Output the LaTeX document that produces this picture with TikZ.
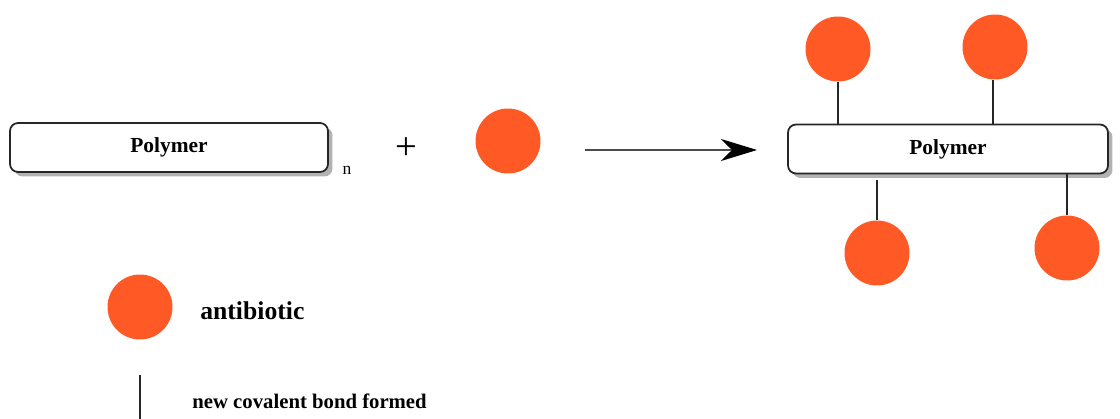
\documentclass[tikz,border=0pt]{standalone}
\usepackage{fontspec}
\setmainfont{Liberation Serif}
\usetikzlibrary{arrows.meta,shadows}
\definecolor{abx}{RGB}{255,90,38}
\begin{document}
\begin{tikzpicture}[x=0.02cm,y=-0.02cm,
  polybox/.style={draw=black!85, line width=1pt, fill=white, rounded corners=0.16cm,
    minimum width=6.36cm, minimum height=0.98cm, inner sep=0pt,
    font=\fontsize{12.2}{14}\selectfont\bfseries,
    drop shadow={shadow xshift=0.09cm, shadow yshift=-0.09cm, fill=black!30, opacity=1}},
  drug/.style={circle, fill=abx, minimum size=1.3cm, inner sep=0pt},
  bond/.style={draw=black!85, line width=0.7pt},
  lbl/.style={anchor=west, inner sep=0pt}]
\useasboundingbox (0,0) rectangle (1120,419);
% reactants
\node[polybox] (lbox) at (169,147.5) {Polymer};
\node[anchor=center, inner sep=0pt, font=\fontsize{10}{12}\selectfont] (n) at (347,170) {n};
\node[inner sep=0pt, font=\fontsize{22}{24}\selectfont] (plus) at (406,149) {+};
\node[drug] (d0) at (508,141) {};
% arrow
\coordinate (a1) at (585,150);
\coordinate (a2) at (757,150);
\draw[black!70, line width=1.1pt, -{Stealth[length=0.72cm, width=0.44cm, inset=0.22cm, black]}] (a1) -- (a2);
% product
\node[polybox, minimum width=6.4cm] (rbox) at (948,149) {Polymer};
\node[drug] (t1) at (838,49) {};
\node[drug] (t2) at (995,47) {};
\node[drug] (b1) at (877,253) {};
\node[drug] (b2) at (1067,248) {};
\draw[bond] (t1.south) -- (t1.south |- rbox.north);
\draw[bond] ([xshift=-0.04cm]t2.south) -- ([xshift=-0.04cm]t2.south |- rbox.north);
\coordinate (b1top) at (877,180);
\draw[bond] (b1.north) -- (b1top);
\draw[bond] (b2.north) -- (b2.north |- rbox.south);
% legend
\node[drug] (ld) at (140,307) {};
\node[lbl, font=\fontsize{14.6}{16}\selectfont\bfseries] (ltxt) at (200,311) {antibiotic};
\coordinate (lb1) at (140,375);
\coordinate (lb2) at (140,419);
\draw[bond] (lb1) -- (lb2);
\node[lbl, font=\fontsize{11.8}{14}\selectfont\bfseries] (btxt) at (192,401) {new covalent bond formed};
\end{tikzpicture}
\end{document}
